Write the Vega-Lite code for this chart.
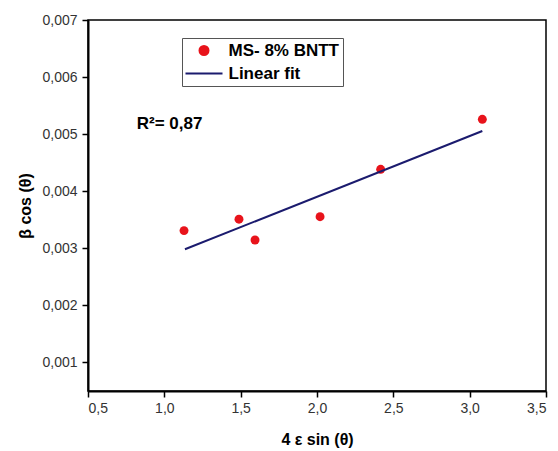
{
  "$schema": "https://vega.github.io/schema/vega-lite/v6.json",
  "width": 458,
  "height": 371,
  "autosize": {"type": "none"},
  "padding": {"left": 88, "top": 20, "right": 12, "bottom": 60},
  "background": "white",
  "config": {
    "view": {"stroke": "#000", "strokeWidth": 1.5},
    "axis": {
      "grid": false,
      "domainColor": "#000",
      "domainWidth": 2,
      "tickColor": "#000",
      "tickWidth": 1.5,
      "labelFont": "Liberation Sans",
      "labelFontSize": 14,
      "labelColor": "#333",
      "titleFont": "Liberation Sans",
      "titleFontSize": 16,
      "titleFontWeight": "bold",
      "titleColor": "#000"
    },
    "legend": {
      "orient": "none",
      "legendX": 94,
      "legendY": 18,
      "symbolSize": 100,
      "symbolStrokeWidth": 2,
      "symbolOffset": 9.5,
      "labelFont": "Liberation Sans",
      "labelFontSize": 17,
      "labelFontWeight": "bold",
      "labelColor": "#000",
      "labelOffset": 16,
      "padding": 4,
      "rowPadding": 5
    }
  },
  "layer": [
    {
      "data": {"values": [
        {"x": 1.129, "y": 0.00331},
        {"x": 1.489, "y": 0.00351},
        {"x": 1.594, "y": 0.003146},
        {"x": 2.02, "y": 0.003554},
        {"x": 2.417, "y": 0.004384},
        {"x": 3.083, "y": 0.00526}
      ]},
      "mark": {"type": "point", "filled": true, "size": 80, "opacity": 1},
      "encoding": {
        "x": {
          "field": "x", "type": "quantitative",
          "scale": {"domain": [0.5, 3.5], "nice": false, "zero": false},
          "axis": {
            "title": "4 ε sin (θ)",
            "titlePadding": 16,
            "values": [0.5, 0.75, 1, 1.25, 1.5, 1.75, 2, 2.25, 2.5, 2.75, 3, 3.25, 3.5],
            "labelExpr": "abs(round(datum.value*2) - datum.value*2) < 1e-6 ? replace(format(datum.value, '.1f'), '.', ',') : ''",
            "tickSize": {"condition": {"test": "abs(round(datum.value*2) - datum.value*2) < 1e-6", "value": 6}, "value": 3},
            "labelPadding": 4
          }
        },
        "y": {
          "field": "y", "type": "quantitative",
          "scale": {"domain": [0.0005, 0.007], "nice": false, "zero": false},
          "axis": {
            "title": "β cos (θ)",
            "titlePadding": 8,
            "values": [0.001, 0.0015, 0.002, 0.0025, 0.003, 0.0035, 0.004, 0.0045, 0.005, 0.0055, 0.006, 0.0065, 0.007],
            "labelExpr": "abs(round(datum.value*1000) - datum.value*1000) < 1e-6 ? replace(format(datum.value, '.3f'), '.', ',') : ''",
            "tickSize": {"condition": {"test": "abs(round(datum.value*1000) - datum.value*1000) < 1e-6", "value": 6}, "value": 3},
            "labelPadding": 5
          }
        },
        "color": {
          "datum": "MS- 8% BNTT",
          "type": "nominal",
          "scale": {"domain": ["MS- 8% BNTT", "Linear fit"], "range": ["#e8131b", "#1b1b6e"]},
          "legend": {
            "title": null,
            "encode": {
              "legend": {
                "update": {
                  "stroke": {"value": "#555"},
                  "strokeWidth": {"value": 1},
                  "fill": {"value": "white"}
                }
              },
              "symbols": {
                "update": {
                  "shape": {"signal": "datum.value === 'Linear fit' ? 'M -3.7,0 L 3.7,0' : 'M -0.9,0 A 0.9,0.9 0 1,0 0.9,0 A 0.9,0.9 0 1,0 -0.9,0 Z'"},
                  "size": {"value": 100},
                  "fill": {"signal": "datum.value === 'Linear fit' ? 'transparent' : '#e8131b'"},
                  "stroke": {"signal": "datum.value === 'Linear fit' ? '#1b1b6e' : 'transparent'"},
                  "strokeWidth": {"value": 2},
                  "opacity": {"value": 1}
                }
              }
            }
          }
        }
      }
    },
    {
      "data": {"values": [
        {"x": 1.135, "y": 0.002983},
        {"x": 3.083, "y": 0.005055}
      ]},
      "mark": {"type": "line", "strokeWidth": 2},
      "encoding": {
        "x": {"field": "x", "type": "quantitative"},
        "y": {"field": "y", "type": "quantitative"},
        "color": {
          "datum": "Linear fit",
          "type": "nominal",
          "legend": {
            "title": null,
            "encode": {
              "legend": {
                "update": {
                  "stroke": {"value": "#555"},
                  "strokeWidth": {"value": 1},
                  "fill": {"value": "white"}
                }
              },
              "symbols": {
                "update": {
                  "shape": {"signal": "datum.value === 'Linear fit' ? 'M -3.7,0 L 3.7,0' : 'M -0.9,0 A 0.9,0.9 0 1,0 0.9,0 A 0.9,0.9 0 1,0 -0.9,0 Z'"},
                  "size": {"value": 100},
                  "fill": {"signal": "datum.value === 'Linear fit' ? 'transparent' : '#e8131b'"},
                  "stroke": {"signal": "datum.value === 'Linear fit' ? '#1b1b6e' : 'transparent'"},
                  "strokeWidth": {"value": 2},
                  "opacity": {"value": 1}
                }
              }
            }
          }
        }
      }
    },
    {
      "data": {"values": [
        {"x": 0.819, "y": 0.005085, "label": "R²= 0,87"}
      ]},
      "mark": {"type": "text", "align": "left", "baseline": "alphabetic", "font": "Liberation Sans", "fontSize": 17, "fontWeight": "bold", "color": "#000"},
      "encoding": {
        "x": {"field": "x", "type": "quantitative"},
        "y": {"field": "y", "type": "quantitative"},
        "text": {"field": "label"}
      }
    }
  ]
}
